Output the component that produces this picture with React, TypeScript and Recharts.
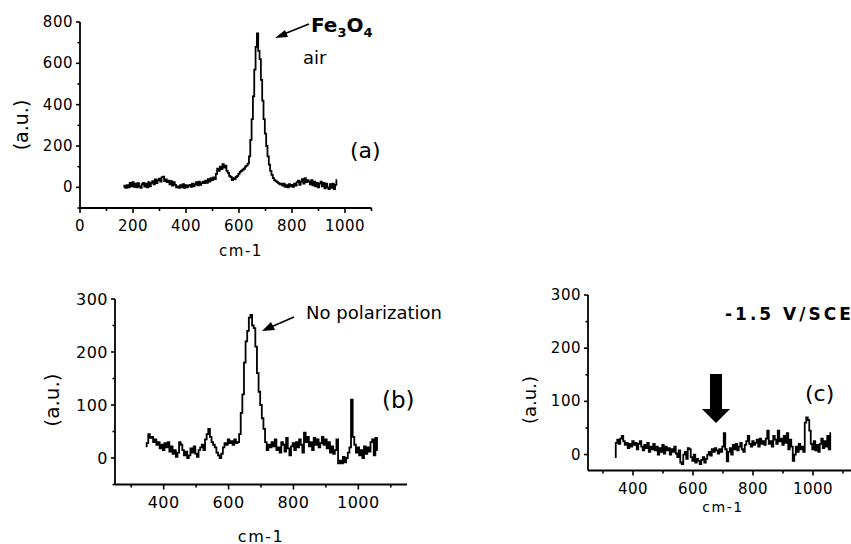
import React from 'react';
import { LineChart, Line, XAxis, YAxis } from 'recharts';

// Raman spectra (5 cm-1 steps)
const STEP = 5;

const airStart = 165;
const airValues = [
  0, 8, -2, 10, 0, 22, 5, 25, 2, 18,
  0, 20, 5, -2, 15, 22, 3, 18, 0, 25,
  5, 22, 30, 15, 38, 20, 35, 42, 28, 48,
  52, 30, 38, 25, 32, 15, 30, 8, 25, 12,
  0, 5, -3, 10, 0, 15, -2, 10, 0, 8,
  12, 2, 18, 5, 15, 25, 10, 28, 12, 20,
  28, 20, 32, 22, 40, 28, 45, 35, 48, 40,
  65, 90, 80, 100, 88, 112, 95, 105, 80, 70,
  55, 50, 35, 45, 40, 50, 55, 65, 75, 80,
  85, 90, 100, 105, 115, 150, 230, 330, 440, 570,
  680, 745, 660, 620, 520, 420, 330, 260, 200, 150,
  110, 80, 60, 45, 35, 30, 25, 20, 15, 18,
  8, 18, 2, 10, 0, 15, 5, 12, 2, 18,
  8, 25, 32, 12, 28, 40, 18, 45, 25, 35,
  28, 15, 35, 10, 28, 5, 22, 0, 18, 28,
  5, 22, -5, 18, 0, -8, 15, -3, 18, -8,
  12, 35,
];

const noPolStart = 345;
const noPolValues = [
  22, 28, 45, 38, 40, 30, 35, 25, 30, 18,
  25, 15, 28, 20, 30, 12, 22, 8, 15, 2,
  10, 30, 25, 15, 5, 12, 0, 5, 18, 10,
  22, 8, 2, 15, 20, 25, 15, 35, 45, 55,
  40, 30, 25, 20, 10, 5, 0, 8, 20, 28,
  25, 35, 28, 32, 25, 35, 28, 30, 45, 85,
  120, 180, 220, 240, 265, 270, 250, 245, 210, 160,
  125, 100, 75, 55, 30, 15, 25, 20, 30, 22,
  35, 15, 20, 10, 30, 25, 12, 38, 18, 5,
  22, 28, 15, 30, 20, 35, 25, 10, 48, 30,
  40, 22, 30, 15, 38, 25, 35, 20, 28, 40,
  25, 35, 18, 30, 10, 22, 8, 15, 35, -10,
  -5, -10, 2, -8, 0, 10, 20, 110, 40, 25,
  10, 20, 5, 15, 0, 22, 8, 20, 12, 30,
  35, 5, 38, 15,
];

const cathodicStart = 340;
const cathodicValues = [
  -5, 22, 28, 20, 30, 35, 25, 18, 22, 12,
  20, 15, 25, 18, 22, 10, 20, 25, 15, 8,
  18, 12, 22, 5, 15, 10, 20, 8, 15, 0,
  12, 5, 18, 2, 15, 8, 12, 0, 10, 5,
  15, 2, -5, 8, -15, -18, 0, 5, -8, 12,
  10, -5, -12, 0, -15, -8, -12, -18, -10, -5,
  -15, -8, 0, 5, -2, 10, 5, 12, 8, 2,
  10, 5, 15, 40, 10, -13, 5, 12, 0, 18,
  10, 20, 8, 15, 22, 10, 5, 18, 25, 35,
  20, 15, 25, 18, 22, 28, 15, 30, 20, 25,
  18, 30, 45, 20, 25, 15, 35, 28, 20, 45,
  25, 30, 18, 35, 22, 40, 10, 28, 15, -12,
  0, 15, 5, 20, 10, 15, 5, 60, 70, 65,
  45, 20, 10, 25, 8, 18, 5, 20, 30, 12,
  25, 15, 35, 10, 40,
];

const ticksA_x = [0, 100, 200, 300, 400, 500, 600, 700, 800, 900, 1000, 1100];
const ticksA_y = [-100, 0, 100, 200, 300, 400, 500, 600, 700, 800];
const ticksBC_x = [300, 400, 500, 600, 700, 800, 900, 1000, 1100];
const ticksB_y = [-50, 0, 50, 100, 150, 200, 250, 300];
const ticksC_y = [0, 50, 100, 150, 200, 250, 300];

const FONT = '"DejaVu Sans", Verdana, sans-serif';

function toRows(start: number, values: number[]) {
  return values.map((v, i) => ({ x: start + i * STEP, y: v }));
}

const airData = toRows(airStart, airValues);
const noPolData = toRows(noPolStart, noPolValues);
const cathodicData = toRows(cathodicStart, cathodicValues);

function isMajor(v: number) {
  return v % 200 === 0;
}

function XTick(props: any) {
  const { x, y, payload, fontSize = 15 } = props;
  const major = isMajor(payload.value);
  return (
    <g>
      <line x1={x} y1={y} x2={x} y2={y + (major ? 5 : 3)} stroke="#000" strokeWidth={1.6} />
      {major && (
        <text x={x} y={y + 18} textAnchor="middle" dominantBaseline="central"
          fontFamily={FONT} fontSize={fontSize} letterSpacing={0.5} fill="#000">
          {payload.value}
        </text>
      )}
    </g>
  );
}

function YTick(props: any) {
  const { x, y, payload, fontSize = 15, majors } = props;
  const major = majors.includes(payload.value);
  return (
    <g>
      <line x1={x - (major ? 4 : 2.5)} y1={y} x2={x} y2={y} stroke="#000" strokeWidth={1.6} />
      {major && (
        <text x={x - 7} y={y} textAnchor="end" dominantBaseline="central"
          fontFamily={FONT} fontSize={fontSize} letterSpacing={0.5} fill="#000">
          {payload.value}
        </text>
      )}
    </g>
  );
}

const axisLine = { stroke: '#000', strokeWidth: 1.8 };

export default function App() {
  return (
    <div style={{ position: 'fixed', left: 0, top: 0, width: 851, height: 544, overflow: 'hidden', background: '#fff' }}>
      {/* (a) Fe3O4 in air */}
      <div style={{ position: 'absolute', left: 0, top: 0 }}>
        <LineChart width={400} height={260} data={airData} margin={{ top: 22, right: 28.5, bottom: 22, left: 0 }}>
          <XAxis type="number" dataKey="x" domain={[0, 1100]} ticks={ticksA_x} interval={0}
            height={30} tickSize={0} tickMargin={0} tickLine={false} axisLine={axisLine}
            tick={<XTick />} />
          <YAxis type="number" domain={[-100, 800]} ticks={ticksA_y} interval={0}
            width={80} tickSize={0} tickMargin={0} tickLine={false} axisLine={axisLine}
            tick={<YTick majors={[0, 200, 400, 600, 800]} />} />
          <Line type="step" dataKey="y" stroke="#000" strokeWidth={1.8} dot={false} isAnimationActive={false} />
        </LineChart>
      </div>

      {/* (b) no polarization */}
      <div style={{ position: 'absolute', left: 0, top: 270 }}>
        <LineChart width={440} height={274} data={noPolData} margin={{ top: 29, right: 33, bottom: 29.5, left: 0 }}>
          <XAxis type="number" dataKey="x" domain={[250, 1150]} ticks={ticksBC_x} interval={0}
            height={30} tickSize={0} tickMargin={0} tickLine={false} axisLine={axisLine}
            tick={<XTick fontSize={16} />} />
          <YAxis type="number" domain={[-50, 300]} ticks={ticksB_y} interval={0}
            width={115} tickSize={0} tickMargin={0} tickLine={false} axisLine={axisLine}
            tick={<YTick fontSize={16} majors={[0, 100, 200, 300]} />} />
          <Line type="step" dataKey="y" stroke="#000" strokeWidth={1.8} dot={false} isAnimationActive={false} />
        </LineChart>
      </div>

      {/* (c) -1.5 V/SCE */}
      <div style={{ position: 'absolute', left: 480, top: 270 }}>
        <LineChart width={390} height={274} data={cathodicData} margin={{ top: 25, right: 12, bottom: 43.5, left: 0 }}>
          <XAxis type="number" dataKey="x" domain={[250, 1150]} ticks={ticksBC_x} interval={0}
            height={30} tickSize={0} tickMargin={0} tickLine={false} axisLine={axisLine}
            tick={<XTick fontSize={15} />} />
          <YAxis type="number" domain={[-30, 300]} ticks={ticksC_y} interval={0}
            width={108} tickSize={0} tickMargin={0} tickLine={false} axisLine={axisLine}
            tick={<YTick fontSize={15} majors={[0, 100, 200, 300]} />} />
          <Line type="step" dataKey="y" stroke="#000" strokeWidth={1.8} dot={false} isAnimationActive={false} />
        </LineChart>
      </div>

      {/* annotations */}
      <svg width={851} height={544} style={{ position: 'absolute', left: 0, top: 0, pointerEvents: 'none' }}
        fontFamily={FONT} fill="#000">
        {/* (a) */}
        <text x={311} y={32} fontSize={20} fontWeight="bold">
          Fe<tspan fontSize={13} dy={5}>3</tspan><tspan dy={-5}>O</tspan><tspan fontSize={13} dy={5}>4</tspan>
        </text>
        <line x1={309} y1={24} x2={284} y2={34} stroke="#000" strokeWidth={1.6} />
        <polygon points="275,38 285,30 288,37" />
        <text x={303} y={64} fontSize={18}>air</text>
        <text x={350} y={150} fontSize={22} dominantBaseline="central">(a)</text>
        <text x={241} y={251} fontSize={15} textAnchor="middle" dominantBaseline="central" letterSpacing={1.5}>cm-1</text>
        <text transform="translate(21,125) rotate(-90)" fontSize={19} textAnchor="middle" dominantBaseline="central">(a.u.)</text>

        {/* (b) */}
        <text x={306} y={312} fontSize={18} dominantBaseline="central">No polarization</text>
        <line x1={294} y1={317} x2={271} y2={327} stroke="#000" strokeWidth={1.6} />
        <polygon points="262,331 271,322 275,330" />
        <text x={382} y={400} fontSize={23} dominantBaseline="central">(b)</text>
        <text x={261} y={536} fontSize={16} textAnchor="middle" dominantBaseline="central" letterSpacing={1.5}>cm-1</text>
        <text transform="translate(52,400) rotate(-90)" fontSize={20} textAnchor="middle" dominantBaseline="central">(a.u.)</text>

        {/* (c) */}
        <text x={725} y={314} fontSize={17} fontWeight="bold" dominantBaseline="central" letterSpacing={3}>-1.5 V/SCE</text>
        <text x={805} y={393} fontSize={22} dominantBaseline="central">(c)</text>
        <polygon points="710,374 722,374 722,409 730,409 716,423 702,409 710,409" />
        <text x={723} y={507} fontSize={14} textAnchor="middle" dominantBaseline="central" letterSpacing={1.5}>cm-1</text>
        <text transform="translate(529,400) rotate(-90)" fontSize={18} textAnchor="middle" dominantBaseline="central">(a.u.)</text>
      </svg>
    </div>
  );
}
